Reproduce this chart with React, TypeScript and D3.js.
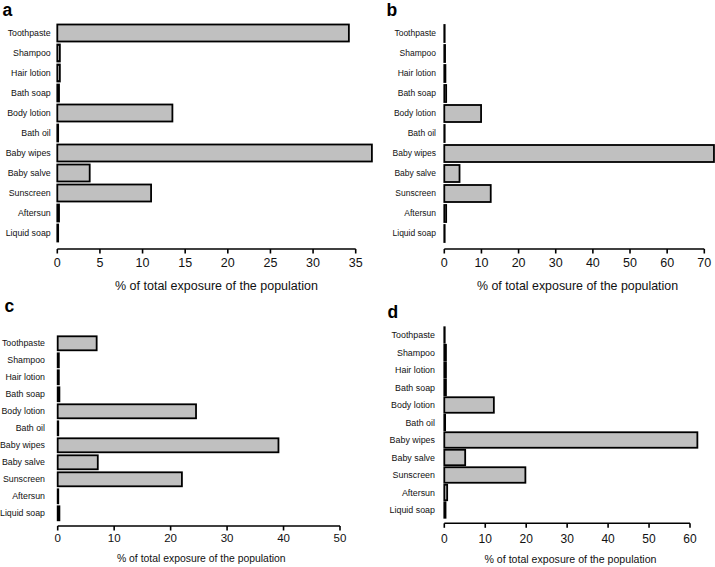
import React from "react";
import * as d3 from "d3";

const categories = [
  "Toothpaste", "Shampoo", "Hair lotion", "Bath soap", "Body lotion", "Bath oil",
  "Baby wipes", "Baby salve", "Sunscreen", "Aftersun", "Liquid soap",
];
const valuesA = [34.2, 0.3, 0.3, 0.2, 13.5, 0.1, 36.9, 3.8, 11.0, 0.2, 0.1];
const valuesB = [0.1, 0.2, 0.3, 0.5, 9.9, 0.1, 72.6, 4.1, 12.5, 0.5, 0.1];
const valuesC = [6.9, 0.2, 0.2, 0.3, 24.5, 0.1, 39.1, 7.1, 22.0, 0.1, 0.3];
const valuesD = [0.1, 0.4, 0.4, 0.4, 12.1, 0.2, 61.8, 5.1, 19.8, 0.7, 0.3];
const ticksA = [0, 5, 10, 15, 20, 25, 30, 35];
const ticksB = [0, 10, 20, 30, 40, 50, 60, 70];
const ticksC = [0, 10, 20, 30, 40, 50];
const ticksD = [0, 10, 20, 30, 40, 50, 60];
const letters = ["a", "b", "c", "d"];
const axisTitle = "% of total exposure of the population";

type PanelProps = {
  letter: string;
  values: number[];
  ticks: number[];
  x0: number; x1: number;
  rowTop: number; rowStep: number; barH: number;
  axisY: number;
  labelGap: number;
  letterX: number; letterY: number;
  tickLabelY: number; tickFont: number;
  titleX: number; titleY: number; titleFont: number;
  catFont: number;
};

function Panel(p: PanelProps) {
  const maxT = p.ticks[p.ticks.length - 1];
  const x = d3.scaleLinear().domain([0, maxT]).range([p.x0, p.x1]);
  const n = categories.length;
  const pad = 1 - p.barH / p.rowStep;
  const y = d3
    .scaleBand<string>()
    .domain(categories)
    .range([p.rowTop - p.rowStep / 2, p.rowTop - p.rowStep / 2 + n * p.rowStep])
    .paddingInner(pad)
    .paddingOuter(pad / 2);
  return (
    <g>
      <text x={p.letterX} y={p.letterY} fontSize={17.5} fontWeight="bold" fill="#000">
        {p.letter}
      </text>
      {categories.map((c, i) => (
        <g key={c}>
          <rect
            x={x(0)}
            y={y(c)!}
            width={Math.max(0, x(p.values[i]) - x(0))}
            height={y.bandwidth()}
            fill="#c0c0c0"
            stroke="#000"
            strokeWidth={1.8}
          />
          <text
            x={p.x0 - p.labelGap}
            y={y(c)! + y.bandwidth() / 2}
            dy="0.35em"
            textAnchor="end"
            fontSize={p.catFont}
            fill="#111"
          >
            {c}
          </text>
        </g>
      ))}
      <line x1={p.x0} x2={p.x1} y1={p.axisY} y2={p.axisY} stroke="#000" strokeWidth={1.6} />
      {p.ticks.map((t) => (
        <g key={t}>
          <line x1={x(t)} x2={x(t)} y1={p.axisY} y2={p.axisY + 4.5} stroke="#000" strokeWidth={1.6} />
          <text x={x(t)} y={p.tickLabelY} textAnchor="middle" fontSize={p.tickFont} fill="#111">
            {t}
          </text>
        </g>
      ))}
      <text x={p.titleX} y={p.titleY} textAnchor="middle" fontSize={p.titleFont} fill="#111">
        {axisTitle}
      </text>
    </g>
  );
}

export default function App() {
  return (
    <svg
      width={715}
      height={567}
      style={{ position: "absolute", left: 0, top: 0, background: "#fff" }}
      fontFamily="'Liberation Sans', Arial, Helvetica, sans-serif"
    >
      <rect width={715} height={567} fill="#fff" />
      <Panel
        letter={letters[0]} values={valuesA} ticks={ticksA}
        x0={57.3} x1={355.7} rowTop={33} rowStep={20} barH={17} axisY={249}
        labelGap={6.6} letterX={2.5} letterY={16}
        tickLabelY={267} tickFont={12.5}
        titleX={216.5} titleY={290} titleFont={12.5} catFont={8.8}
      />
      <Panel
        letter={letters[1]} values={valuesB} ticks={ticksB}
        x0={444.3} x1={704.3} rowTop={33.5} rowStep={20} barH={17} axisY={249}
        labelGap={8.3} letterX={386.5} letterY={16}
        tickLabelY={267} tickFont={12.5}
        titleX={577.5} titleY={290} titleFont={12.4} catFont={8.5}
      />
      <Panel
        letter={letters[2]} values={valuesC} ticks={ticksC}
        x0={57.7} x1={340} rowTop={343.3} rowStep={17} barH={14} axisY={526}
        labelGap={12.7} letterX={4.5} letterY={312}
        tickLabelY={542} tickFont={11.5}
        titleX={201.3} titleY={562} titleFont={10.4} catFont={8.8}
      />
      <Panel
        letter={letters[3]} values={valuesD} ticks={ticksD}
        x0={444.3} x1={690} rowTop={335} rowStep={17.5} barH={15.5} axisY={523.3}
        labelGap={9.3} letterX={387.5} letterY={318}
        tickLabelY={543} tickFont={12}
        titleX={570.5} titleY={562.5} titleFont={10.6} catFont={8.9}
      />
    </svg>
  );
}
